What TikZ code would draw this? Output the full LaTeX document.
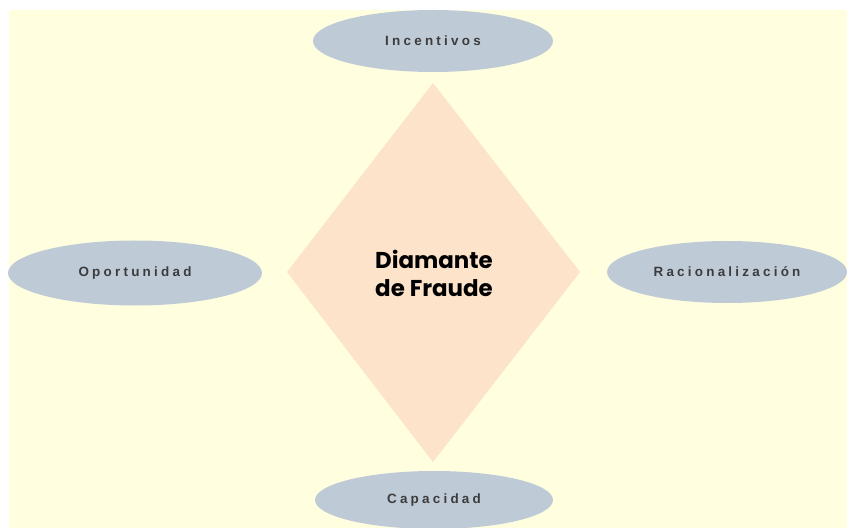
\documentclass[tikz,border=0pt]{standalone}
\usepackage{fontspec}
\setmainfont{Liberation Sans}
\newfontfamily\labelfont[LetterSpace=24]{Liberation Sans}
\newfontfamily\titlefont{Poppins}[BoldFont={* Bold}]
\usetikzlibrary{shapes.geometric}
\definecolor{paper}{HTML}{FFFFE0}
\definecolor{pillfill}{HTML}{BFCAD7}
\definecolor{gemfill}{HTML}{FCE3CA}
\definecolor{ink}{HTML}{3C3C3C}
\tikzset{
  pill/.style={ellipse, fill=pillfill, draw=none, inner sep=0pt,
    font=\labelfont\bfseries\fontsize{13.5}{16}\selectfont, text=ink},
}
\begin{document}
\begin{tikzpicture}[x=1bp,y=-1bp]
  \useasboundingbox (0,0) rectangle (847,528);
  \fill[white] (0,0) rectangle (847,528);
  \fill[paper] (9,10) rectangle (847,528);
  % central diamond
  \fill[gemfill] (433,83) -- (580,272) -- (433,462) -- (287,272) -- cycle;
  \node[text=black, align=center, font=\titlefont\bfseries\fontsize{23}{28}\selectfont]
    (gem) at (434,273) {Diamante\\de Fraude};
  % the four factors
  \node[pill, minimum width=240bp, minimum height=62bp] (inc) at (433,41) {Incentivos};
  \node[pill, minimum width=254bp, minimum height=65bp] (opo) at (135,273) {Oportunidad};
  \node[pill, minimum width=240bp, minimum height=62bp] (rac) at (727,272) {Racionalización};
  \node[pill, minimum width=238bp, minimum height=58bp] (cap) at (434,500) {Capacidad};
\end{tikzpicture}
\end{document}
